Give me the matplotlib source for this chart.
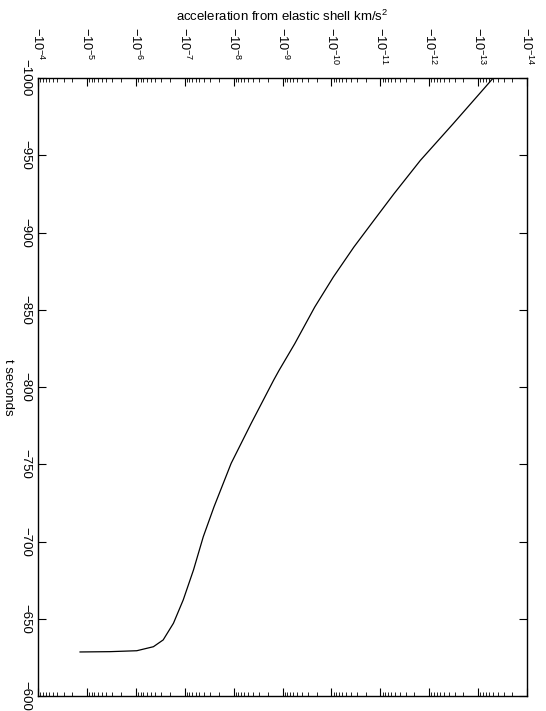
import numpy as np
import matplotlib
matplotlib.use("Agg")
import matplotlib.pyplot as plt
from matplotlib.ticker import FuncFormatter, LogLocator, MultipleLocator

plt.rcParams['font.family'] = ['Liberation Sans', 'DejaVu Sans']
plt.rcParams['mathtext.fontset'] = 'custom'
plt.rcParams['mathtext.rm'] = 'Liberation Sans'
plt.rcParams['mathtext.it'] = 'Liberation Sans:italic'

# time (s) and log10 of |acceleration| (km/s^2)
t_sec = [-1000.0, -970.4, -946.7, -925.1, -907.9, -890.6, -871.2, -851.8,
         -828.0, -810.8, -804.5, -776.5, -750.6, -722.5, -703.1, -681.6,
         -662.2, -647.1, -636.3, -631.9, -629.3, -628.7, -628.5]
log_acc = [-13.31, -12.49, -11.82, -11.28, -10.87, -10.46, -10.04, -9.66,
           -9.25, -8.93, -8.82, -8.36, -7.95, -7.60, -7.38, -7.18,
           -6.97, -6.77, -6.56, -6.36, -6.02, -5.47, -4.86]

acc = -10.0 ** np.array(log_acc)   # negative accelerations

fig = plt.figure(figsize=(5.46, 7.11), dpi=100)
ax = fig.add_axes([38/546, 1 - 696/711, (527-38)/546, (696-78)/711])

# plotted on log axis of -a, labels show the sign
ax.plot(-acc, t_sec, color='black', lw=0.9)

ax.set_xscale('log')
ax.set_xlim(1e-4, 1e-14)
ax.set_ylim(-600, -1000)

ax.xaxis.set_major_locator(LogLocator(base=10, numticks=20))
ax.xaxis.set_minor_locator(LogLocator(base=10, subs=np.arange(2, 10), numticks=20))
ax.xaxis.set_major_formatter(FuncFormatter(lambda v, p: r'$-10^{%d}$' % round(np.log10(v))))
ax.yaxis.set_major_locator(MultipleLocator(50))

ax.tick_params(axis='x', which='both', direction='in', top=True, bottom=True,
               labeltop=True, labelbottom=False)
ax.tick_params(axis='x', which='major', length=6, width=0.8, labelsize=9.2, pad=36.5)
ax.tick_params(axis='x', which='minor', length=3, width=0.6)
ax.tick_params(axis='y', which='major', direction='in', left=True, right=True,
               length=6, width=0.8, labelsize=9.5, pad=5)
plt.setp(ax.get_xticklabels(), rotation=-90, va='top', ha='center')
plt.setp(ax.get_yticklabels(), rotation=-90, va='center', ha='right')

for s in ax.spines.values():
    s.set_linewidth(1.0)

fig.text(282/546, 1 - 16/711, r'acceleration from elastic shell km/s$^2$',
         ha='center', va='center', fontsize=9.5)
ax.set_ylabel('t seconds', rotation=-90, fontsize=9.5, va='center')
ax.yaxis.set_label_coords(-30/489, 0.5)

fig.savefig('out.png', dpi=100)
